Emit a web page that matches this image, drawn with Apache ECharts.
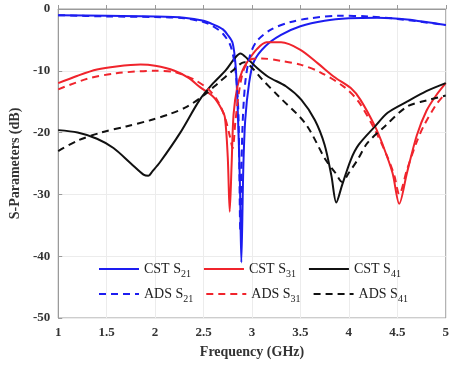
<!DOCTYPE html>
<html>
<head>
<meta charset="utf-8">
<script src="https://cdn.jsdelivr.net/npm/echarts@6/dist/echarts.min.js"></script>
<style>
  html, body { margin: 0; padding: 0; background: #fff; }
  #chart { width: 452px; height: 368px; }
</style>
</head>
<body>
<div id="chart"></div>
<script>
// values: [frequency GHz, dB]
const cstS21 = [
  [1.0, -1.0], [1.5, -1.1], [2.0, -1.2], [2.3, -1.4], [2.5, -1.9], [2.6, -2.5],
  [2.7, -3.3], [2.75, -4.2], [2.8, -5.5], [2.83, -9], [2.85, -15], [2.875, -28],
  [2.89, -41], [2.91, -26], [2.93, -18], [2.97, -12], [3.02, -8.5], [3.14, -6],
  [3.3, -4.2], [3.5, -2.8], [3.75, -1.9], [4.0, -1.5], [4.3, -1.4], [4.6, -1.7],
  [5.0, -2.6]
]
const adsS21 = [
  [1.0, -1.0], [1.5, -1.2], [2.0, -1.3], [2.3, -1.5], [2.5, -2.1], [2.6, -2.8],
  [2.7, -4.0], [2.78, -6.0], [2.83, -10], [2.86, -17], [2.88, -36], [2.9, -20],
  [2.93, -12], [2.98, -7.5], [3.05, -5.2], [3.2, -3.3], [3.4, -2.1], [3.6, -1.5],
  [3.9, -1.1], [4.2, -1.2], [4.5, -1.6], [5.0, -2.6]
]
const cstS31 = [
  [1.0, -12], [1.2, -10.8], [1.4, -9.8], [1.6, -9.3], [1.85, -9.0], [2.0, -9.2],
  [2.2, -10], [2.35, -11.2], [2.46, -12.6], [2.6, -14.2], [2.68, -16], [2.72, -17.5],
  [2.75, -24], [2.77, -32.8], [2.79, -25], [2.81, -17], [2.85, -12.5], [2.9, -10],
  [2.95, -8.6], [3.05, -6.5], [3.15, -5.4], [3.3, -5.4], [3.5, -6.6], [3.68, -8.8],
  [3.85, -11], [4.02, -12.8], [4.12, -14.7], [4.27, -19], [4.35, -22], [4.45, -26.5],
  [4.52, -31.5], [4.6, -26.5], [4.7, -20.5], [4.8, -16.5], [4.9, -14], [5.0, -12]
]
const adsS31 = [
  [1.0, -13], [1.3, -11.3], [1.6, -10.4], [2.0, -10.0], [2.2, -10.2], [2.4, -11.4],
  [2.55, -13], [2.65, -15], [2.72, -17.5], [2.77, -20.5], [2.8, -22.5], [2.83, -18],
  [2.87, -13], [2.92, -9.6], [3.0, -8.1], [3.1, -8.0], [3.3, -8.4], [3.5, -9.0],
  [3.7, -10.2], [3.95, -12.6], [4.1, -15], [4.27, -19.6], [4.4, -24], [4.47, -27],
  [4.52, -30], [4.6, -26], [4.7, -21.5], [4.77, -19], [4.9, -15.5], [5.0, -13.6]
]
const cstS41 = [
  [1.0, -19.6], [1.2, -20], [1.4, -21], [1.57, -22.5], [1.75, -25], [1.88, -26.8],
  [1.93, -27], [1.97, -26.3], [2.05, -24.8], [2.26, -20], [2.46, -14.7], [2.6, -12],
  [2.73, -9.9], [2.82, -8], [2.88, -7.2], [2.95, -8], [3.05, -9.5], [3.17, -11],
  [3.35, -12.5], [3.51, -14.7], [3.65, -18], [3.75, -22], [3.82, -27], [3.87, -31.3],
  [3.93, -28.5], [4.02, -24.4], [4.1, -22], [4.27, -19], [4.4, -16.8], [4.6, -15],
  [4.8, -13.3], [5.0, -12]
]
const adsS41 = [
  [1.0, -23], [1.2, -21.3], [1.44, -20], [1.7, -19], [1.95, -18], [2.15, -17],
  [2.33, -15.8], [2.5, -14], [2.65, -12], [2.8, -10], [2.92, -8.6], [3.0, -9.5],
  [3.1, -11.3], [3.28, -14.2], [3.55, -18.5], [3.76, -24.4], [3.86, -26.5],
  [3.93, -28], [4.0, -26.5], [4.09, -24.4], [4.19, -21.7], [4.37, -19], [4.6, -15.8],
  [4.8, -14.8], [5.0, -14]
]
const rowCst = ['CST S21', 'CST S31', 'CST S41']
const rowAds = ['ADS S21', 'ADS S31', 'ADS S41']

const serif = '"Liberation Serif", "DejaVu Serif", serif'
const blue = '#1d1df0'
const red = '#f0242c'
const black = '#111111'

function line(name, data, color, dashed) {
  return {
    name,
    type: 'line',
    data,
    symbol: 'none',
    smooth: 0.3,
    lineStyle: { color, width: 2, type: dashed ? [7, 5] : 'solid' },
    itemStyle: { color },
  }
}

function legendRow(names, top) {
  return {
    data: names,
    left: 98,
    top,
    itemWidth: 40,
    itemHeight: 10,
    itemGap: 12,
    padding: 0,
    itemStyle: { opacity: 0 },
    formatter: n => n.replace(/(\d+)$/, '{sub|$1}'),
    textStyle: {
      fontFamily: serif,
      fontSize: 14,
      color: '#222',
      rich: {
        sub: { fontFamily: serif, fontSize: 10, color: '#222', padding: [10, 0, 0, 0] },
      },
    },
  }
}

const chart = echarts.init(document.getElementById('chart'))
chart.setOption({
  animation: false,
  backgroundColor: '#fff',
  grid: { left: 57, right: 3, top: 9, bottom: 50, show: true, borderColor: '#9a9a9a', borderWidth: 1 },
  legend: [legendRow(rowCst, 262), legendRow(rowAds, 287)],
  xAxis: {
    type: 'value',
    min: 1,
    max: 5,
    interval: 0.5,
    name: 'Frequency (GHz)',
    nameLocation: 'middle',
    nameGap: 27,
    nameTextStyle: { fontFamily: serif, fontWeight: 'bold', fontSize: 14, color: '#333' },
    axisLine: { lineStyle: { color: '#9a9a9a' } },
    axisTick: { inside: true, length: 4, lineStyle: { color: '#9a9a9a' } },
    axisLabel: { fontFamily: serif, fontWeight: 'bold', fontSize: 13, color: '#333', margin: 8 },
    splitLine: { lineStyle: { color: '#ececec' } },
  },
  yAxis: {
    type: 'value',
    min: -50,
    max: 0,
    interval: 10,
    name: 'S-Parameters (dB)',
    nameLocation: 'middle',
    nameGap: 34,
    nameTextStyle: { fontFamily: serif, fontWeight: 'bold', fontSize: 14, color: '#333' },
    axisLine: { show: true, lineStyle: { color: '#9a9a9a' } },
    axisTick: { show: true, inside: true, length: 4, lineStyle: { color: '#9a9a9a' } },
    axisLabel: { fontFamily: serif, fontWeight: 'bold', fontSize: 13, color: '#333', margin: 8 },
    splitLine: { lineStyle: { color: '#ececec' } },
  },
  series: [
    line('CST S21', cstS21, blue, false),
    line('CST S31', cstS31, red, false),
    line('CST S41', cstS41, black, false),
    line('ADS S21', adsS21, blue, true),
    line('ADS S31', adsS31, red, true),
    line('ADS S41', adsS41, black, true),
  ],
})
</script>
</body>
</html>
